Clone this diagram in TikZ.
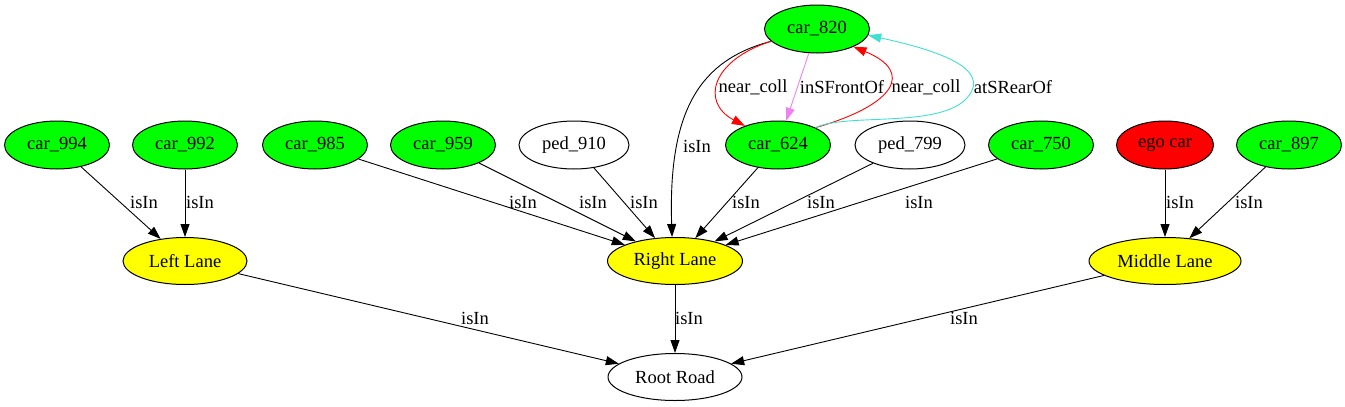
\documentclass[tikz,border=0pt]{standalone}
\usepackage{fontspec}
\setmainfont{Liberation Serif}
\usetikzlibrary{shapes.geometric}
\usetikzlibrary{arrows.meta}
\definecolor{carGreen}{HTML}{00FF00}
\definecolor{laneYellow}{HTML}{FFFF00}
\definecolor{egoRed}{HTML}{FF0000}
\definecolor{relViolet}{HTML}{EE82EE}
\definecolor{relTurquoise}{HTML}{40E0D0}
\tikzset{>={Triangle[length=13pt,width=9pt]}}
\tikzstyle{entity}=[draw=black,ellipse,line width=1pt,inner sep=0pt,
                    minimum height=48pt,font=\fontsize{18.5}{22}\selectfont]
\tikzstyle{car}=[entity,fill=carGreen,minimum width=105pt]
\tikzstyle{ped}=[entity,fill=white,minimum width=110pt]
\tikzstyle{lane}=[entity,fill=laneYellow,minimum height=47pt]
\tikzstyle{is in}=[->,black,line width=0.9pt]
\tikzstyle{relation}=[->,line width=0.9pt]
\tikzstyle{edge label}=[inner sep=0pt,font=\fontsize{18.5}{22}\selectfont]

\begin{document}
\begin{tikzpicture}[x=1pt,y=-1pt]
        \useasboundingbox (0,0) rectangle (1345,407);
        \def\yrow{145} % row of road users
        \def\ylab{202} % isIn labels of the row

        % ROAD USERS
        \node[car] (car820) at (817,29) {car\_820};
        \foreach \n/\x in {994/57,992/185,985/315,959/443,750/1041,897/1289}{
          \node[car] (car\n) at (\x,\yrow) {car\_\n};
        }
        \node[car] (car624) at (778,\yrow) {car\_624};
        \node[ped] (ped910) at (574,\yrow) {ped\_910};
        \node[ped] (ped799) at (910,\yrow) {ped\_799};
        \node[car,fill=egoRed,minimum width=97pt] (ego) at (1165,\yrow) {ego car};

        % LANES
        \node[lane,minimum width=124pt] (left) at (185,261) {Left Lane};
        \node[lane,minimum width=135pt] (right) at (675,261) {Right Lane};
        \node[lane,minimum width=152pt] (middle) at (1165,261) {Middle Lane};
        \node[entity,fill=white,minimum width=134pt,minimum height=47pt] (root) at (675,377) {Root Road};

        % ROW -> LANES
        \foreach \a/\b/\lx in {car994/left/144,car992/left/200,car985/right/523,
                               car959/right/593,ped910/right/644,car624/right/746,
                               ped799/right/821,car750/right/919,ego/middle/1180,
                               car897/middle/1249}{
          \draw[is in] (\a) -- (\b);
          \node[edge label] (lbl\a) at (\lx,\ylab) {isIn};
        }
        \draw[is in] (car820.195) .. controls (700,60) and (668,110) .. (right.97);
        \node[edge label] (lblcar820) at (697,146) {isIn};

        % LANES -> ROOT
        \draw[is in] (left) -- (root);
        \node[edge label] (lblleft) at (475,318) {isIn};
        \draw[is in] (right) -- (root);
        \node[edge label] (lblright) at (689,318) {isIn};
        \draw[is in] (middle) -- (root);
        \node[edge label] (lblmiddle) at (964,318) {isIn};

        % RELATIONS car_820 / car_624
        \draw[relation,red] (car820.195) .. controls (712,60) and (700,102) .. (car624.150);
        \node[edge label] (lblnear1) at (753,87) {near\_coll};
        \draw[relation,relViolet] (car820) -- (car624);
        \node[edge label] (lblfront) at (842,87) {inSFrontOf};
        \draw[relation,red] (car624.north east) .. controls (895,105) and (915,72) .. (car820.334);
        \node[edge label] (lblnear2) at (926,87) {near\_coll};
        \draw[relation,relTurquoise] (car624.north east) .. controls (845,113) and (935,128) .. (965,100)
              .. controls (990,75) and (960,55) .. (car820.353);
        \node[edge label] (lblrear) at (1013,87) {atSRearOf};

\end{tikzpicture}
\end{document}
